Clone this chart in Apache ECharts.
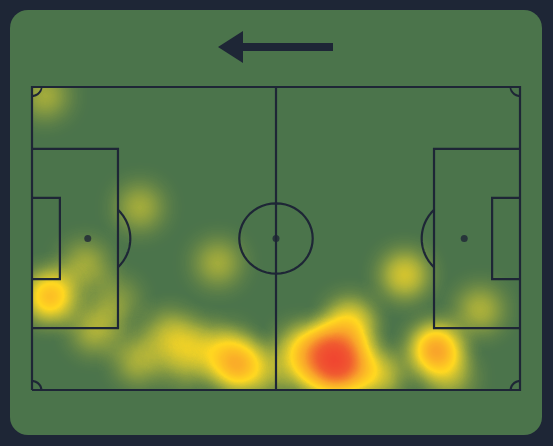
<!DOCTYPE html>
<html><head><meta charset="utf-8">
<script src="https://cdn.jsdelivr.net/npm/echarts@6/dist/echarts.min.js"></script>
<style>html,body{margin:0;padding:0;background:#1e2636}#c{width:553px;height:446px}</style>
</head><body><div id="c"></div>
<script>
// touch points: x (0-105, left->right), y (0-68, bottom->top), weight
var touchX = [65.4, 63, 68, 66, 43.9, 42, 86.9, 3.9, 80.2, 23.2, 40, 29.7, 13.6, 11.4, 2.8, 96.4, 74.9, 57.7, 68.4, 23, 50, 90, 36, 18, 60, 70, 33];
var touchY = [6.7, 9, 12, 4, 5.6, 9, 9, 21, 25.8, 41, 28.5, 12.3, 13.5, 28, 66, 18, 3.4, 9, 15.7, 6.7, 4, 3, 10, 20, 4, 5, 6];
var touchW = [7, 5, 3, 4, 5, 2, 6, 5, 3, 2, 2, 2.5, 2.2, 2, 2, 2.2, 2.5, 3, 2.5, 2.2, 2, 2, 2, 1.5, 2.5, 2.5, 1.8];

var LINE = '#1e2636';
var W = 105, H = 68;

function arc(cx, cy, r, a0, a1) {
  var pts = [];
  for (var i = 0; i <= 48; i++) {
    var a = a0 + (a1 - a0) * i / 48;
    pts.push([cx + r * Math.cos(a), cy + r * Math.sin(a)]);
  }
  return pts;
}
var D = Math.PI / 180;
var pitch = [
  [[0,0],[W,0],[W,H],[0,H],[0,0]],
  [[W/2,0],[W/2,H]],
  [[0,13.9],[18.5,13.9],[18.5,54.1],[0,54.1]],
  [[W,13.9],[W-18.5,13.9],[W-18.5,54.1],[W,54.1]],
  [[0,24.9],[6,24.9],[6,43.1],[0,43.1]],
  [[W,24.9],[W-6,24.9],[W-6,43.1],[W,43.1]],
  arc(W/2, H/2, 7.9, 0, 2*Math.PI),
  arc(12, H/2, 9.15, -44.7*D, 44.7*D),
  arc(W-12, H/2, 9.15, 135.3*D, 224.7*D),
  arc(0, 0, 2, 0, 90*D), arc(0, H, 2, -90*D, 0),
  arc(W, 0, 2, 90*D, 180*D), arc(W, H, 2, 180*D, 270*D)
];

echarts.registerMap('pitch', {type:'FeatureCollection', features:[{type:'Feature', properties:{name:'p'},
  geometry:{type:'Polygon', coordinates:[[[0,0],[W,0],[W,H],[0,H],[0,0]]]}}]});

var heat = touchX.map(function(x, i){ return [x, touchY[i], touchW[i]]; });

var chart = echarts.init(document.getElementById('c'));
chart.setOption({
  backgroundColor: '#1e2636',
  graphic: [
    {type:'rect', z:-10, shape:{x:10, y:10, width:532, height:425, r:18}, style:{fill:'#4b744b'}},
    {type:'rect', shape:{x:236, y:43, width:97, height:8}, style:{fill:LINE}},
    {type:'polygon', shape:{points:[[218,47],[243,31],[243,63]]}, style:{fill:LINE}}
  ],
  geo: {
    map:'pitch', roam:false, silent:true, aspectScale:1.043,
    left:32, top:87, width:488, height:303,
    itemStyle:{areaColor:'rgba(0,0,0,0)', borderWidth:0},
    label:{show:false}, emphasis:{disabled:true}
  },
  visualMap: {
    show:false, min:0, max:8, seriesIndex:0, calculable:false,
    inRange:{color:['#c8c83a','#f0dc30','#ffd620','#f9a62a','#f05a30','#ef3030']}
  },
  series: [
    {type:'heatmap', coordinateSystem:'geo', data:heat, pointSize:22, blurSize:26, minOpacity:0, maxOpacity:2.6},
    {type:'lines', coordinateSystem:'geo', polyline:true, silent:true, z:5,
     lineStyle:{color:LINE, width:2.2, opacity:1},
     data: pitch.map(function(p){ return {coords:p}; })},
    {type:'scatter', coordinateSystem:'geo', silent:true, z:6, symbolSize:7,
     itemStyle:{color:LINE}, data:[[W/2,H/2],[12,H/2],[W-12,H/2]]}
  ]
});
</script></body></html>
